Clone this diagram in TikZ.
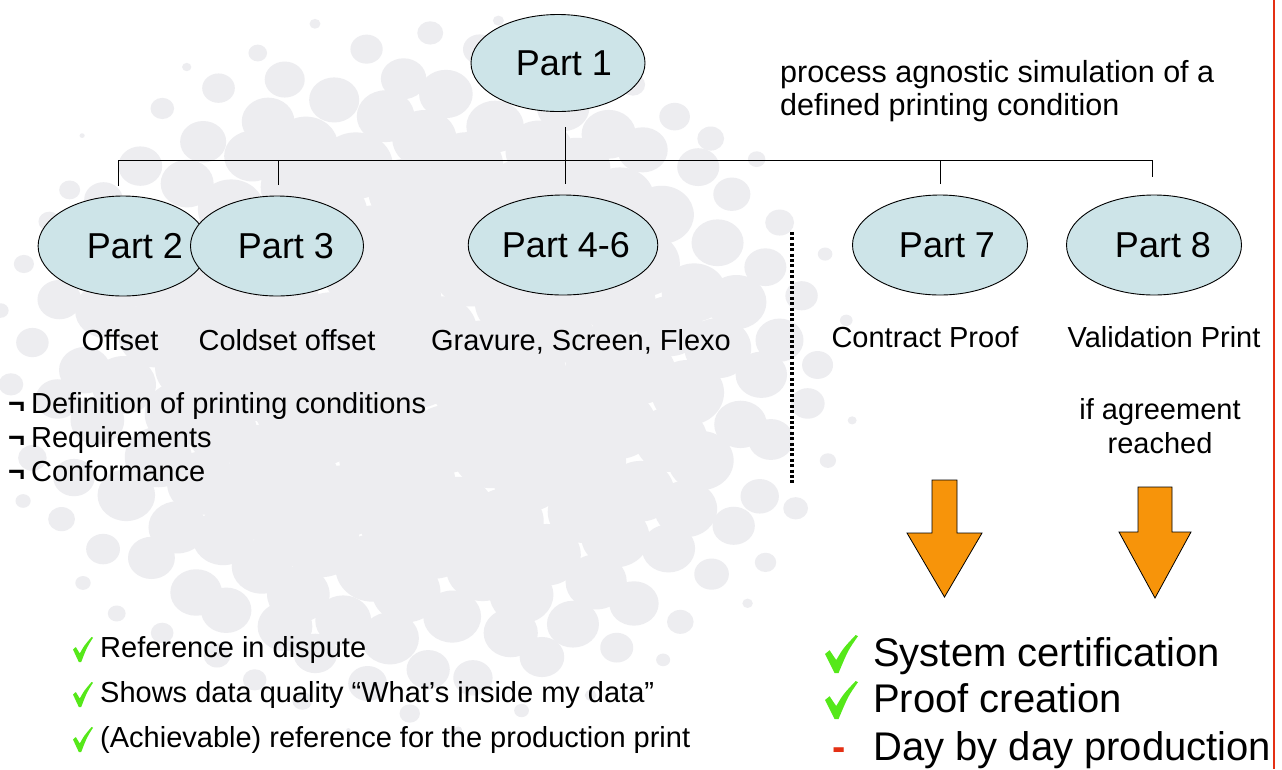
\documentclass[tikz,border=0pt]{standalone}
\usepackage{fontspec}
\setmainfont{Liberation Sans}
\usetikzlibrary{shapes.geometric}
\definecolor{partfill}{RGB}{205,228,232}
\definecolor{bggrey}{RGB}{237,237,240}
\definecolor{arroworange}{RGB}{247,148,10}
\definecolor{tickgreen}{RGB}{85,232,25}
\definecolor{rulered}{RGB}{228,48,20}
\begin{document}
\begin{tikzpicture}[x=1pt,y=-1pt,
  part/.style={ellipse,draw=black,line width=0.9pt,fill=partfill,inner sep=0pt,
    minimum height=100pt,font=\fontsize{36}{40}\selectfont},
  caption/.style={anchor=base,inner sep=0pt,font=\fontsize{29}{33}\selectfont},
  plain/.style={anchor=base west,inner sep=0pt,font=\fontsize{29}{33}\selectfont},
  big/.style={anchor=base west,inner sep=0pt,font=\fontsize{40}{46}\selectfont},
  tree/.style={line width=1pt,draw=black},
  sepline/.style={line width=3.4pt,dash pattern=on 3pt off 2.4pt},
  bigarrow/.style={fill=arroworange,draw=black,line width=0.8pt,line join=miter},
  checkmark/.pic={\fill[tickgreen] (0,0.50) -- (0.14,0.40) -- (0.34,0.66)
      .. controls (0.55,0.35) .. (0.93,0) -- (1,0.03)
      .. controls (0.7,0.4) .. (0.41,1) -- (0.29,1) -- cycle;}]

% canvas
\fill[white] (0,0) rectangle (1282,769);
\useasboundingbox (0,0) rectangle (1282,769);
\clip (0,0) rectangle (1282,769);

% halftone backdrop: grid of grey dots that shrink towards the rim
\pgfmathsetseed{11}
\foreach \i in {-11,...,11}{
  \foreach \j in {-11,...,11}{
    \pgfmathsetmacro\hx{420 + 50*(\i*cos(28) - \j*sin(28)) + 9*rand}
    \pgfmathsetmacro\hy{370 + 50*(\i*sin(28) + \j*cos(28)) + 9*rand}
    \pgfmathsetmacro\hd{sqrt(((\hx-420)/450)^2 + ((\hy-370)/370)^2)}
    \pgfmathsetmacro\hr{\hd<1 ? 50*0.82*(1-\hd^4)*(0.88+0.14*rnd) : 0}
    \ifdim\hr pt>2pt
      \fill[bggrey] (\hx,\hy) ellipse [x radius=\hr pt, y radius=0.9*\hr pt];
    \fi
  }
}

% right-hand margin rule
\draw[rulered,line width=2.4pt] (1274,0) -- (1274,769);

% parts
\node[part,minimum width=174pt,minimum height=97pt] (p1) at (558,63) {\hspace*{12pt}Part 1};
\node[part,minimum width=167pt] (p2) at (123,246) {\hspace*{24pt}Part 2};
\node[part,minimum width=173pt] (p3) at (277,246) {\hspace*{18pt}Part 3};
\node[part,minimum width=174pt] (p46) at (563,245) {\hspace*{6pt}Part 4-6};
\node[part,minimum width=175pt] (p7) at (940,245) {\hspace*{14pt}Part 7};
\node[part,minimum width=175pt] (p8) at (1154,245) {\hspace*{18pt}Part 8};

% tree connectors
\coordinate (stem) at (565,127);
\coordinate (bus) at (565,160);
\coordinate (d2) at (118,186);
\coordinate (d3) at (278,185);
\coordinate (d46) at (565,184);
\coordinate (d7) at (940,184);
\coordinate (d8) at (1152,177);
\draw[tree] (d2) -- (d2 |- bus) -- (d8 |- bus) -- (d8);
\draw[tree] (d3) -- (d3 |- bus);
\draw[tree] (stem) -- (d46);
\draw[tree] (d7) -- (d7 |- bus);

% descriptions
\node[plain,font=\fontsize{30.5}{33}\selectfont] (desc1) at (780,82) {process agnostic simulation of a};
\node[plain,font=\fontsize{30.5}{33}\selectfont] (desc2) at (780,115) {defined printing condition};

\node[caption] (c2) at (120,350) {Offset};
\node[caption] (c3) at (287,350) {Coldset offset};
\node[caption] (c46) at (581,350) {Gravure, Screen, Flexo};
\node[caption] (c7) at (925,347) {Contract Proof};
\node[caption] (c8) at (1164,347) {Validation Print};

\node[plain] (b1) at (8,413) {\textbf{¬}\hspace{6pt}Definition of printing conditions};
\node[plain] (b2) at (8,447) {\textbf{¬}\hspace{6pt}Requirements};
\node[plain] (b3) at (8,481) {\textbf{¬}\hspace{6pt}Conformance};

\node[caption] (agree1) at (1160,419) {if agreement};
\node[caption] (agree2) at (1160,453) {reached};

% separator
\coordinate (sepTop) at (792,232);
\coordinate (sepBot) at (792,484);
\draw[sepline] (sepTop) -- (sepBot);

% block arrows
\draw[bigarrow] (932,480) -- (957,480) -- (957,533) -- (982,533) -- (944.5,597)
  -- (907,533) -- (932,533) -- cycle;
\draw[bigarrow] (1138,487) -- (1172,487) -- (1172,532) -- (1191,532) -- (1155,598)
  -- (1119,532) -- (1138,532) -- cycle;

% benefits, left
\pic[xscale=20,yscale=25] at (73,637) {checkmark};
\pic[xscale=20,yscale=25] at (73,682) {checkmark};
\pic[xscale=20,yscale=25] at (73,727) {checkmark};
\node[plain] (l1) at (100,657) {Reference in dispute};
\node[plain] (l2) at (100,702) {Shows data quality “What’s inside my data”};
\node[plain] (l3) at (100,747) {(Achievable) reference for the production print};

% benefits, right
\pic[xscale=33,yscale=38] at (825,635) {checkmark};
\pic[xscale=33,yscale=38] at (825,681) {checkmark};
\node[anchor=base west,inner sep=0pt,text=rulered,font=\bfseries\fontsize{40}{40}\selectfont] (r3) at (832,760) {-};
\node[big] (t1) at (873,666) {System certification};
\node[big] (t2) at (873,712) {Proof creation};
\node[big] (t3) at (873,760) {Day by day production};
\end{tikzpicture}
\end{document}
